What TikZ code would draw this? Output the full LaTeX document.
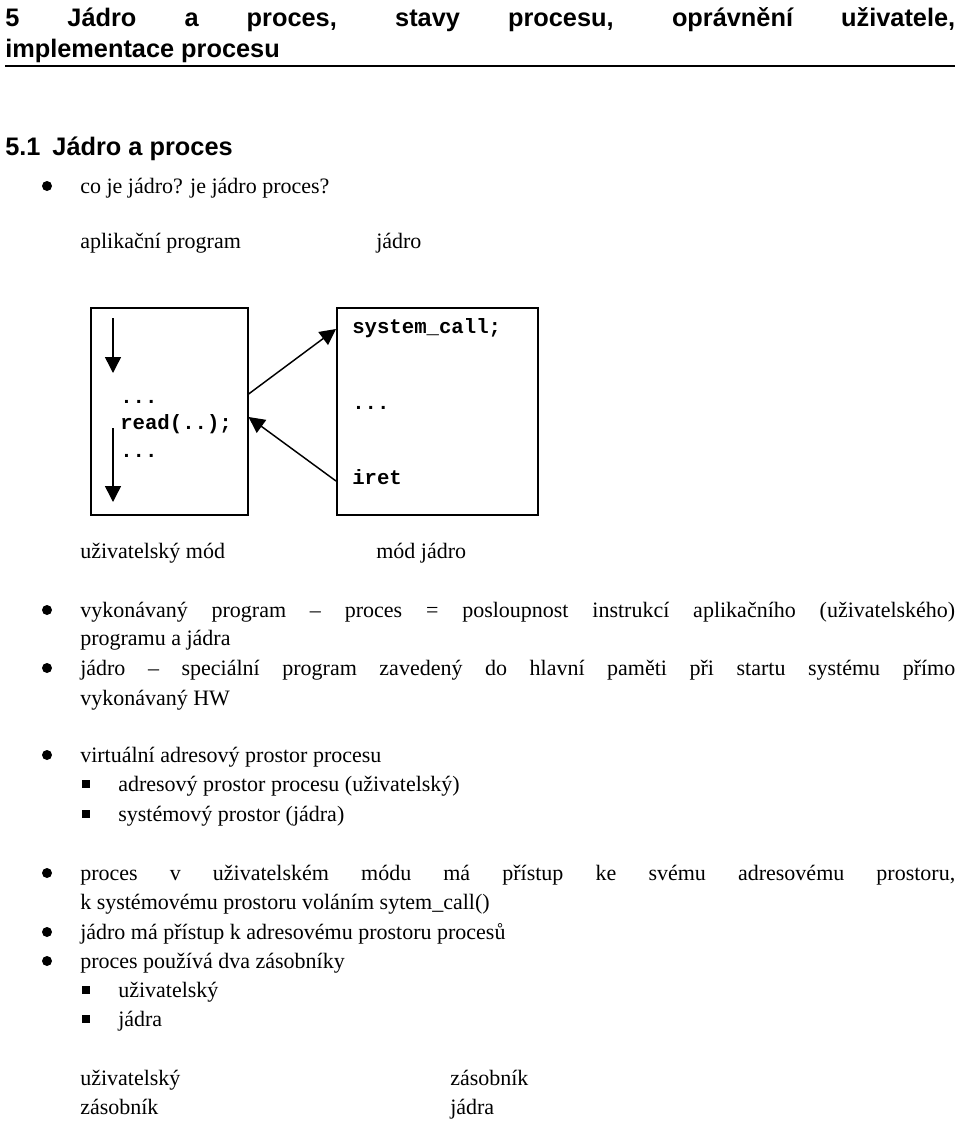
\documentclass[tikz,border=0pt]{standalone}
\usepackage{fontspec}
\setmainfont{Liberation Serif}
\setsansfont{Liberation Sans}
\setmonofont{Liberation Mono}
\usetikzlibrary{arrows.meta}
\newlength{\px}
\setlength{\px}{0.75pt}
\newcommand{\fitline}[1]{\makebox[875\px][s]{#1}}

\begin{document}
\begin{tikzpicture}
    [
        x=0.75pt, y=-0.75pt,
        txt/.style={anchor=base west, inner sep=0pt, font=\fontsize{16.5}{19}\selectfont},
        head/.style={anchor=base west, inner sep=0pt, font=\sffamily\bfseries\fontsize{19}{22}\selectfont},
        code/.style={anchor=base west, inner sep=0pt, font=\ttfamily\bfseries\fontsize{15.5}{18}\selectfont},
        dot/.style={circle, fill, inner sep=0pt, minimum size=7.5pt},
        sq/.style={rectangle, fill, inner sep=0pt, minimum size=6pt},
        box/.style={draw, line width=1.2pt},
        arr/.style={-{Triangle[length=12pt, width=12pt]}, line width=1.1pt}
    ]
    \useasboundingbox (0,0) rectangle (960,1121);

    % headings
    \node[head] (h1) at (5,26) {\makebox[950\px][s]{5 Jádro a proces, stavy procesu, oprávnění uživatele,}};
    \node[head] (h2) at (5,57) {implementace procesu};
    \draw[line width=0.8pt] (5,66) -- (955,66);
    \node[head] (h3) at (5,155) {5.1\hspace{12\px}Jádro a proces};

    \node[dot] (b1) at (47,186) {};
    \node[txt] (t1) at (80,193) {co je jádro? je jádro proces?};
    \node[txt] (apl) at (80,248) {aplikační program};
    \node[txt] (jad) at (376,248) {jádro};

    % diagram
    \node[box, minimum width=117.75pt, minimum height=155.25pt, anchor=north west] (user) at (90,307) {};
    \node[box, minimum width=150.75pt, minimum height=155.25pt, anchor=north west] (kern) at (336,307) {};
    \node[code] (u1) at (120,403) {...};
    \node[code] (u2) at (120,429) {read(..);};
    \node[code] (u3) at (120,457) {...};
    \node[code] (k1) at (352,333) {system\_call;};
    \node[code] (k2) at (352,409) {...};
    \node[code] (k3) at (352,484) {iret};
    \coordinate (d1) at (113,318);
    \coordinate (d2) at (113,373);
    \coordinate (d3) at (113,428);
    \coordinate (d4) at (113,502);
    \draw[arr] (d1) -- (d2);
    \draw[arr] (d3) -- (d4);
    \draw[arr] (user.east |- 0,394) -- (kern.west |- 0,329);
    \draw[arr] (kern.west |- 0,481) -- (user.east |- 0,417);
    \node[txt] (um) at (80,558) {uživatelský mód};
    \node[txt] (km) at (376,558) {mód jádro};

    % bullets
    \node[dot] (b2) at (47,610) {};
    \node[txt] (t2) at (80,617) {\fitline{vykonávaný program – proces = posloupnost instrukcí aplikačního (uživatelského)}};
    \node[txt] (t2b) at (80,645) {programu a jádra};
    \node[dot] (b3) at (47,668) {};
    \node[txt] (t3) at (80,675) {\fitline{jádro – speciální program zavedený do hlavní paměti při startu systému přímo}};
    \node[txt] (t3b) at (80,705) {vykonávaný HW};
    \node[dot] (b4) at (47,755) {};
    \node[txt] (t4) at (80,762) {virtuální adresový prostor procesu};
    \node[sq] (s1) at (86,784) {};
    \node[txt] (t4a) at (118,791) {adresový prostor procesu (uživatelský)};
    \node[sq] (s2) at (86,814) {};
    \node[txt] (t4b) at (118,821) {systémový prostor (jádra)};
    \node[dot] (b5) at (47,873) {};
    \node[txt] (t5) at (80,880) {\fitline{proces v~uživatelském módu má přístup ke svému adresovému prostoru,}};
    \node[txt] (t5b) at (80,909) {k~systémovému prostoru voláním sytem\_call()};
    \node[dot] (b6) at (47,932) {};
    \node[txt] (t6) at (80,939) {jádro má přístup k adresovému prostoru procesů};
    \node[dot] (b7) at (47,961) {};
    \node[txt] (t7) at (80,968) {proces používá dva zásobníky};
    \node[sq] (s3) at (86,990) {};
    \node[txt] (t7a) at (118,997) {uživatelský};
    \node[sq] (s4) at (86,1019) {};
    \node[txt] (t7b) at (118,1026) {jádra};

    \node[txt] (z1) at (80,1085) {uživatelský};
    \node[txt] (z2) at (80,1114) {zásobník};
    \node[txt] (z3) at (450,1085) {zásobník};
    \node[txt] (z4) at (450,1114) {jádra};
\end{tikzpicture}
\end{document}
